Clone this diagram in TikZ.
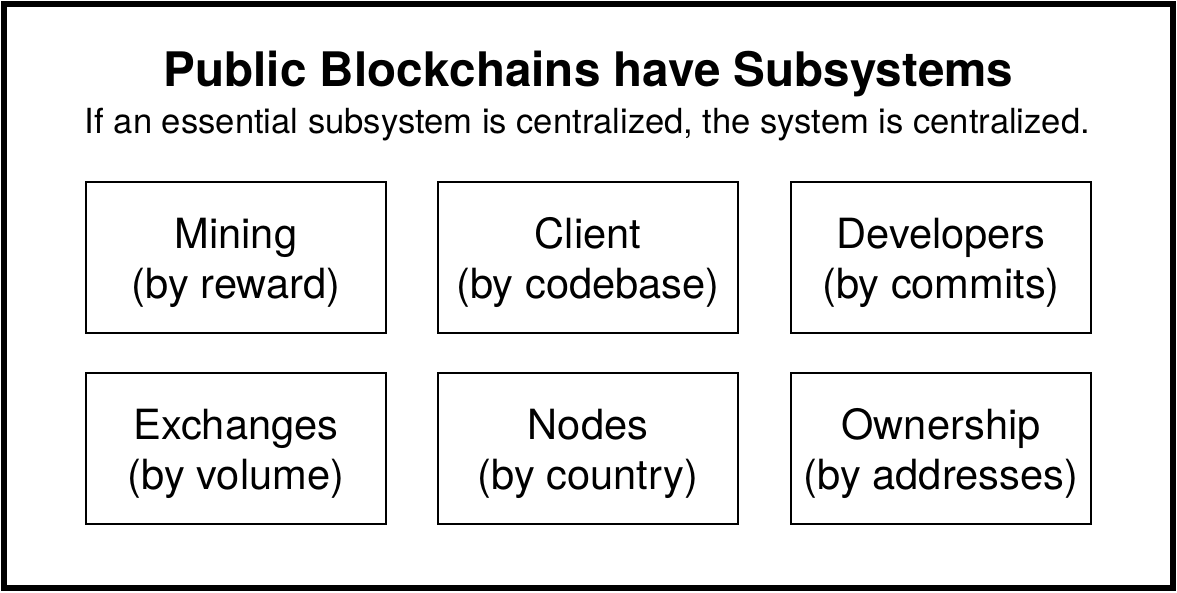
\documentclass[tikz,border=0pt]{standalone}
\usepackage{fontspec}
\setmainfont{TeX Gyre Heros}
\begin{document}
\begin{tikzpicture}[x=1pt,y=-1pt,
  cell/.style={draw=black,line width=2pt,minimum width=300pt,minimum height=151pt,inner sep=0pt},
  celltext/.style={font=\fontsize{41.6}{50}\selectfont,align=center,anchor=base},
  title/.style={font=\fontsize{47.6}{56}\selectfont\bfseries,anchor=base},
  subtitle/.style={font=\fontsize{34.6}{42}\selectfont,anchor=base}]
\useasboundingbox (0,0) rectangle (1177,592);
\fill[white] (0,0) rectangle (1177,592);
\draw[line width=6pt] (4,4) rectangle (1173,588);
\node[title] (t) at (588.5,86) {Public Blockchains have Subsystems};
\node[subtitle] (s) at (587.5,133) {If an essential subsystem is centralized, the system is centralized.};
\foreach \n/\cx/\cy/\a/\b in {
  mining/236/257.5/Mining/(by reward),
  client/588/257.5/Client/(by codebase),
  devs/941/257.5/Developers/(by commits),
  exch/236/448.5/Exchanges/(by volume),
  nodes/588/448.5/Nodes/(by country),
  own/941/448.5/Ownership/(by addresses)}{
  \node[cell] (\n) at (\cx,\cy) {};
  \node[celltext] (\n-a) at (\cx,\cy-9.5) {\a};
  \node[celltext] (\n-b) at (\cx,\cy+41) {\b};
}
\end{tikzpicture}
\end{document}
